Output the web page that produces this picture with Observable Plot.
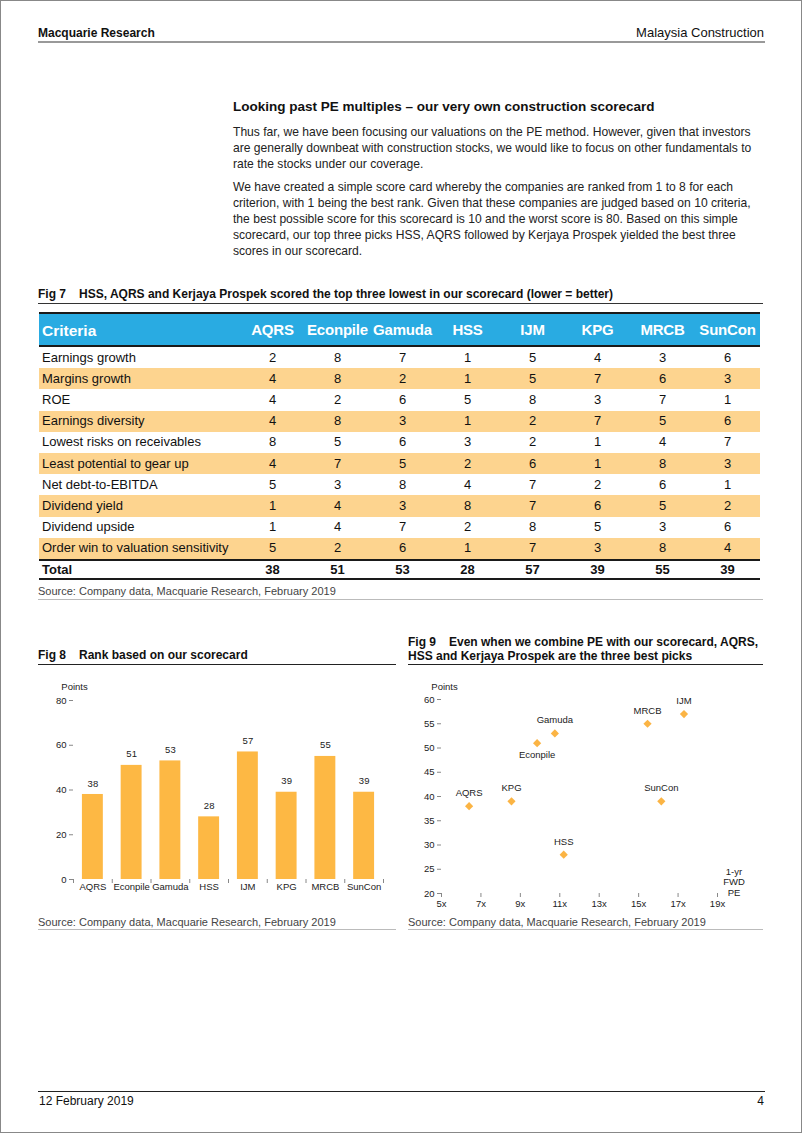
<!DOCTYPE html>
<html><head><meta charset="utf-8">
<script src="https://cdn.jsdelivr.net/npm/d3@7"></script>
<script src="https://cdn.jsdelivr.net/npm/@observablehq/plot@0.6"></script>
<style>
html,body{margin:0;padding:0;background:#fff;}
body{width:802px;height:1133px;position:relative;overflow:hidden;font-family:"Liberation Sans",Arial,sans-serif;color:#111;}
.a{position:absolute;white-space:nowrap;}
.hr{position:absolute;height:0;}
</style></head><body>
<div class="a" style="left:0;top:0;width:800px;height:1131px;border:1px solid #888;"></div>
<div id="page"></div>
<script>
// ---------- data ----------
const companies = ["AQRS","Econpile","Gamuda","HSS","IJM","KPG","MRCB","SunCon"];
const criteria = ["Earnings growth","Margins growth","ROE","Earnings diversity","Lowest risks on receivables",
  "Least potential to gear up","Net debt-to-EBITDA","Dividend yield","Dividend upside","Order win to valuation sensitivity"];
const ranks = [
  [2,8,7,1,5,4,3,6],
  [4,8,2,1,5,7,6,3],
  [4,2,6,5,8,3,7,1],
  [4,8,3,1,2,7,5,6],
  [8,5,6,3,2,1,4,7],
  [4,7,5,2,6,1,8,3],
  [5,3,8,4,7,2,6,1],
  [1,4,3,8,7,6,5,2],
  [1,4,7,2,8,5,3,6],
  [5,2,6,1,7,3,8,4]
];
const totals = [38,51,53,28,57,39,55,39];
const fwdPE = [6.4,9.85,10.75,11.2,17.3,8.55,15.45,16.15];
const labelBelow = ["Econpile"];
const barTicks = [0,20,40,60,80];
const peTicksY = [20,25,30,35,40,45,50,55,60];
const peTicksX = [5,7,9,11,13,15,17,19];

const ORANGE = "#fdb844", ROWORANGE = "#fdd48f", BLUE = "#29abe2";
const FS = 9.5;
const page = document.getElementById("page");
// cy = centre of the first line
function txt(html, left, cy, fs, extra="", lh=null){
  const d = document.createElement("div");
  d.className = "a";
  const L = lh || Math.round(fs*1.2);
  d.style.cssText = `left:${left}px;top:${cy - L/2}px;font-size:${fs}px;line-height:${L}px;${extra}`;
  d.innerHTML = html;
  page.appendChild(d);
  return d;
}
function line(x1, x2, y, w, color){
  const d = document.createElement("div");
  d.className = "hr";
  d.style.cssText = `left:${x1}px;width:${x2-x1}px;top:${y}px;border-top:${w}px solid ${color};`;
  page.appendChild(d);
}

// ---------- page header / footer ----------
txt("Macquarie Research", 38, 33, 12, "font-weight:bold;");
txt("Malaysia Construction", 0, 33, 13, "width:764px;text-align:right;");
line(38, 765, 41, 2, "#999");
line(38, 765, 1091, 1, "#222");
txt("12 February 2019", 39, 1101, 12);
txt("4", 0, 1101, 12, "width:764px;text-align:right;");

// ---------- body text ----------
txt("Looking past PE multiples – our very own construction scorecard", 233, 107, 13.5, "font-weight:bold;");
txt("Thus far, we have been focusing our valuations on the PE method. However, given that investors<br>are generally downbeat with construction stocks, we would like to focus on other fundamentals to<br>rate the stocks under our coverage.", 233, 132, 12.1, "color:#222;", 16);
txt("We have created a simple score card whereby the companies are ranked from 1 to 8 for each<br>criterion, with 1 being the best rank. Given that these companies are judged based on 10 criteria,<br>the best possible score for this scorecard is 10 and the worst score is 80. Based on this simple<br>scorecard, our top three picks HSS, AQRS followed by Kerjaya Prospek yielded the best three<br>scores in our scorecard.", 233, 187, 12.1, "color:#222;", 16);

// ---------- Fig 7 table ----------
txt('<span style="display:inline-block;width:41px">Fig 7</span>HSS, AQRS and Kerjaya Prospek scored the top three lowest in our scorecard (lower = better)', 38, 294, 12, "font-weight:bold;");
line(38, 763, 303, 1.5, "#333");
const TL = 39, C0 = 201, CW = 65, TR = TL + C0 + CW*8;
(function(){
  const h = document.createElement("div");
  h.className = "a";
  h.style.cssText = `left:${TL}px;top:312px;width:${TR-TL}px;height:31px;background:${BLUE};border-top:2px solid #1a1a1a;border-bottom:2px solid #1a1a1a;`;
  page.appendChild(h);
  txt("Criteria", TL+3, 330, 15.5, "font-weight:bold;color:#fff;");
  companies.forEach((c,i)=>txt(c, TL+C0+CW*i, 330, 15, `font-weight:bold;color:#fff;width:${CW}px;text-align:center;letter-spacing:-0.2px;`));
})();
const RH = 21.2, R0 = 347;
criteria.forEach((cr, r)=>{
  const top = R0 + r*RH;
  if (r % 2 === 1){
    const b = document.createElement("div");
    b.className = "a";
    b.style.cssText = `left:${TL}px;top:${top}px;width:${TR-TL}px;height:${RH}px;background:${ROWORANGE};`;
    page.appendChild(b);
  }
  const cy = top + RH/2;
  txt(cr, TL+3, cy, 13);
  ranks[r].forEach((v,i)=>txt(String(v), TL+C0+CW*i, cy, 13, `width:${CW}px;text-align:center;`));
});
line(TL, TR, 559, 2, "#1a1a1a");
txt("Total", TL+3, 570, 13, "font-weight:bold;");
totals.forEach((v,i)=>txt(String(v), TL+C0+CW*i, 570, 13, `font-weight:bold;width:${CW}px;text-align:center;`));
line(TL, TR, 578, 2, "#1a1a1a");
txt("Source: Company data, Macquarie Research, February 2019", 38, 591, 11, "color:#444;");
line(38, 763, 599, 1, "#bbb");

// ---------- Fig 8 ----------
txt('<span style="display:inline-block;width:41px">Fig 8</span>Rank based on our scorecard', 38, 655, 12, "font-weight:bold;");
line(38, 396, 664, 1, "#222");
const barData = companies.map((c,i)=>({company:c, idx:i, total:totals[i]}));
const fig8 = Plot.plot({
  width:360, height:240,
  marginLeft:35, marginRight:15, marginTop:30, marginBottom:31,
  style:{fontFamily:"Liberation Sans, Arial, sans-serif", fontSize:FS+"px", color:"#222", background:"transparent", overflow:"visible"},
  x:{domain:[0,8], axis:null},
  y:{domain:[0,80], axis:null},
  marks:[
    Plot.rectY(barData, {x1:d=>d.idx+0.23, x2:d=>d.idx+0.77, y:"total", fill:ORANGE}),
    Plot.text(barData, {x:d=>d.idx+0.5, y:"total", text:d=>String(d.total), dy:-11, fontSize:FS, fill:"#222"}),
    Plot.axisY({ticks:barTicks, tickSize:4, tickPadding:3, line:true, stroke:"#888", fill:"#222", label:null, fontSize:FS}),
    Plot.axisX({ticks:d3.range(0,9), tickSize:4, tickFormat:()=>"", line:true, stroke:"#888", label:null}),
    Plot.axisX({ticks:d3.range(0.5,8,1), tickSize:0, tickPadding:4, tickFormat:v=>companies[Math.floor(v)], fill:"#222", label:null, fontSize:FS})
  ]
});
fig8.style.position = "absolute"; fig8.style.left = "38px"; fig8.style.top = "670px";
page.appendChild(fig8);
txt("Points", 54, 686, FS, "width:41px;text-align:center;color:#222;");
txt("Source: Company data, Macquarie Research, February 2019", 38, 922, 11, "color:#444;");
line(38, 396, 929, 1, "#bbb");

// ---------- Fig 9 ----------
txt('<span style="display:inline-block;width:41px">Fig 9</span>Even when we combine PE with our scorecard, AQRS,<br>HSS and Kerjaya Prospek are the three best picks', 408, 642, 12, "font-weight:bold;", 14);
line(408, 763, 664, 1, "#222");
const peData = companies.map((c,i)=>({company:c, pe:fwdPE[i], points:totals[i]}));
const fig9 = Plot.plot({
  width:360, height:245,
  marginLeft:33, marginRight:51, marginTop:29, marginBottom:22,
  style:{fontFamily:"Liberation Sans, Arial, sans-serif", fontSize:FS+"px", color:"#222", background:"transparent", overflow:"visible"},
  x:{domain:[5,19], axis:null},
  y:{domain:[20,60], axis:null},
  marks:[
    Plot.axisY({ticks:peTicksY, tickSize:4, tickPadding:3, line:true, stroke:"#888", fill:"#222", label:null, fontSize:FS}),
    Plot.axisX({ticks:peTicksX, tickFormat:d=>d+"x", tickSize:4, tickPadding:3, line:true, stroke:"#888", fill:"#222", label:null, fontSize:FS}),
    Plot.dot(peData, {x:"pe", y:"points", symbol:"diamond2", r:3.7, fill:"#fbb444", stroke:"none"}),
    Plot.text(peData.filter(d=>!labelBelow.includes(d.company)), {x:"pe", y:"points", text:"company", dy:-13, fontSize:FS, fill:"#222"}),
    Plot.text(peData.filter(d=>labelBelow.includes(d.company)), {x:"pe", y:"points", text:"company", dy:12, fontSize:FS, fill:"#222"})
  ]
});
fig9.style.position = "absolute"; fig9.style.left = "408px"; fig9.style.top = "670px";
page.appendChild(fig9);
txt("Points", 424, 686, FS, "width:41px;text-align:center;color:#222;");
txt("1-yr<br>FWD<br>PE", 714, 872, FS, "width:40px;text-align:center;color:#222;", 10.5);
txt("Source: Company data, Macquarie Research, February 2019", 408, 922, 11, "color:#444;");
line(408, 763, 929, 1, "#bbb");
</script>
</body></html>
